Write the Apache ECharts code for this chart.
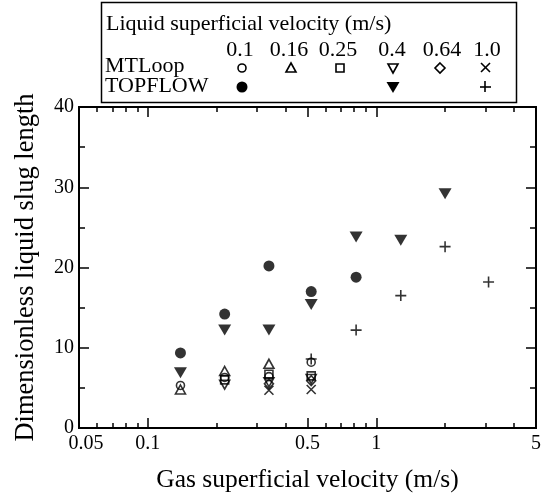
<!DOCTYPE html>
<html>
<head>
<meta charset="utf-8">
<script src="https://cdn.jsdelivr.net/npm/echarts@6/dist/echarts.min.js"></script>
<style>html,body{margin:0;padding:0;background:#fff}#c{width:544px;height:498px}</style>
</head>
<body>
<div id="c"></div>
<script>
// ---- data ----
const xTickLabels = ['0.05', '0.1', '0.5', '1', '5'];
const xMajorTicks = [0.05, 0.1, 0.5, 1, 5];
const xMinorTicks = [0.06, 0.07, 0.08, 0.09, 0.2, 0.3, 0.4, 0.6, 0.7, 0.8, 0.9, 2, 3, 4];
const yTicks = [0, 10, 20, 30, 40];
const liquidVelocities = ['0.1', '0.16', '0.25', '0.4', '0.64', '1.0'];

// MTLoop (gas superficial velocity, slug length)
const gasMT = [0.139, 0.217, 0.339, 0.519];
const mt_01  = [5.3, 6.3, 6.4, 8.2];
const mt_016 = [4.8, 7.1, 8.0, null];
const mt_025 = [null, 6.0, 6.7, 6.5];
const mt_04  = [null, 5.4, 5.7, 6.1];
const mt_064 = [null, null, 5.5, 5.9];
const mt_10  = [null, null, 4.7, 4.8];

// TOPFLOW
const gasTF01 = [0.139, 0.217, 0.339, 0.519, 0.816];
const tf_01   = [9.35, 14.2, 20.2, 17.0, 18.8];
const gasTF04 = [0.139, 0.217, 0.339, 0.519, 0.816, 1.28, 2.0];
const tf_04   = [6.9, 12.2, 12.2, 15.4, 23.8, 23.4, 29.2];
const gasTF10 = [0.519, 0.816, 1.28, 2.0, 3.1];
const tf_10   = [8.6, 12.2, 16.5, 22.6, 18.2];

// ---- build ----
const L = v => Math.log10(v);
const pts = (xs, ys) => xs.map((x, i) => ys[i] == null ? null : [L(x), ys[i]]).filter(p => p);
const FONT = 'Liberation Serif';
const xmin = L(0.05), xmax = L(5);

const crossPath = 'path://M0,0L10,10M10,0L0,10';
const plusPath = 'path://M5,0L5,10M0,5L10,5';

function openSeries(name, data, symbol, size, rotate) {
  return {
    type: 'scatter', name, data, symbol, symbolSize: size, symbolRotate: rotate || 0,
    itemStyle: { color: 'rgba(0,0,0,0)', borderColor: '#000', borderWidth: 1.6 },
    emphasis: { disabled: true }, z: 3
  };
}
function filledSeries(name, data, symbol, size, rotate) {
  return {
    type: 'scatter', name, data, symbol, symbolSize: size, symbolRotate: rotate || 0,
    itemStyle: { color: '#000', borderColor: '#000', borderWidth: 0 },
    emphasis: { disabled: true }, z: 4
  };
}

const labelFmt = v => {
  let best = 0, bd = 1e9;
  xMajorTicks.forEach((t, i) => { const d = Math.abs(L(t) - v); if (d < bd) { bd = d; best = i; } });
  return best === 0 ? '{first|' + xTickLabels[best] + '}' : xTickLabels[best];
};

const baseX = {
  type: 'value', min: xmin, max: xmax,
  axisLine: { show: true, onZero: false, lineStyle: { color: '#000', width: 2 } },
  splitLine: { show: false }
};
const baseY = {
  type: 'value', min: yTicks[0], max: yTicks[yTicks.length - 1], interval: 10,
  axisLine: { show: true, onZero: false, lineStyle: { color: '#000', width: 2 } },
  axisTick: { show: true, inside: true, length: 10, lineStyle: { color: '#000', width: 1.5 } },
  minorTick: { show: true, splitNumber: 2, length: 6, lineStyle: { color: '#000', width: 1.5 } },
  splitLine: { show: false }, minorSplitLine: { show: false }
};

const option = {
  animation: false,
  backgroundColor: '#fff',
  grid: { left: 79, right: 8, top: 107, bottom: 66, containLabel: false },
  xAxis: [
    Object.assign({}, baseX, {
      position: 'bottom',
      name: 'Gas superficial velocity (m/s)', nameLocation: 'middle', nameGap: 39,
      nameTextStyle: { fontFamily: FONT, fontSize: 25.5, color: '#000' },
      axisTick: { show: true, inside: true, length: 10, lineStyle: { color: '#000', width: 1.5 },
        customValues: xMajorTicks.map(L) },
      axisLabel: { show: true, fontFamily: FONT, fontSize: 20, color: '#000', margin: 6,
        customValues: xMajorTicks.map(L), formatter: labelFmt, showMinLabel: true, showMaxLabel: true,
        rich: { first: { fontFamily: FONT, fontSize: 20, color: '#000', padding: [0, 0, 0, 14] } } }
    }),
    Object.assign({}, baseX, {
      position: 'bottom',
      axisTick: { show: true, inside: true, length: 5, lineStyle: { color: '#000', width: 1.5 },
        customValues: xMinorTicks.map(L) },
      axisLabel: { show: false }
    }),
    Object.assign({}, baseX, {
      position: 'top',
      axisTick: { show: true, inside: true, length: 10, lineStyle: { color: '#000', width: 1.5 },
        customValues: xMajorTicks.map(L) },
      axisLabel: { show: false }
    }),
    Object.assign({}, baseX, {
      position: 'top',
      axisTick: { show: true, inside: true, length: 5, lineStyle: { color: '#000', width: 1.5 },
        customValues: xMinorTicks.map(L) },
      axisLabel: { show: false }
    })
  ],
  yAxis: [
    Object.assign({}, baseY, {
      position: 'left',
      name: 'Dimensionless liquid slug length', nameLocation: 'middle', nameGap: 39,
      nameTextStyle: { fontFamily: FONT, fontSize: 26.5, color: '#000' },
      axisLabel: { fontFamily: FONT, fontSize: 20, color: '#000', margin: 5 }
    }),
    Object.assign({}, baseY, {
      position: 'right',
      axisLabel: { show: false }
    })
  ],
  series: [
    openSeries('MTLoop 0.1', pts(gasMT, mt_01), 'circle', 8),
    openSeries('MTLoop 0.16', pts(gasMT, mt_016), 'triangle', [10, 9]),
    openSeries('MTLoop 0.25', pts(gasMT, mt_025), 'rect', 8),
    openSeries('MTLoop 0.4', pts(gasMT, mt_04), 'triangle', [10, 9], 180),
    openSeries('MTLoop 0.64', pts(gasMT, mt_064), 'diamond', [9, 10]),
    openSeries('MTLoop 1.0', pts(gasMT, mt_10), crossPath, 9),
    filledSeries('TOPFLOW 0.1', pts(gasTF01, tf_01), 'circle', 11),
    filledSeries('TOPFLOW 0.4', pts(gasTF04, tf_04), 'triangle', [13, 11], 180),
    openSeries('TOPFLOW 1.0', pts(gasTF10, tf_10), plusPath, 11)
  ],
  graphic: []
};

// legend box (custom table layout)
const g = [];
const txt = (text, x, y, align) => ({ type: 'text', x, y, style: { text, fontFamily: FONT, fontSize: 22, fill: '#000', align: align || 'left', verticalAlign: 'middle' }, z: 10 });
g.push({ type: 'rect', shape: { x: 101.5, y: 2.5, width: 415, height: 100 }, style: { fill: '#fff', stroke: '#000', lineWidth: 1.5 }, z: 9 });
g.push(txt('Liquid superficial velocity (m/s)', 106, 24));
const colX = [240, 289, 338, 392, 442, 487];
liquidVelocities.forEach((s, i) => g.push(txt(s, colX[i], 50, 'center')));
g.push(txt('MTLoop', 105, 66));
g.push(txt('TOPFLOW', 105, 86));
const sym = { fill: 'none', stroke: '#000', lineWidth: 1.6 };
const ry = 68, ty = 87;
g.push({ type: 'circle', shape: { cx: colX[0] + 2, cy: ry, r: 4 }, style: sym, z: 10 });
g.push({ type: 'polygon', shape: { points: [[colX[1] + 2, ry - 5], [colX[1] + 7, ry + 4], [colX[1] - 3, ry + 4]] }, style: sym, z: 10 });
g.push({ type: 'rect', shape: { x: colX[2] - 2, y: ry - 4, width: 8, height: 8 }, style: sym, z: 10 });
g.push({ type: 'polygon', shape: { points: [[colX[3] - 4, ry - 4], [colX[3] + 6, ry - 4], [colX[3] + 1, ry + 5]] }, style: sym, z: 10 });
g.push({ type: 'polygon', shape: { points: [[colX[4] - 2, ry - 5], [colX[4] + 3, ry], [colX[4] - 2, ry + 5], [colX[4] - 7, ry]] }, style: sym, z: 10 });
g.push({ type: 'polyline', shape: { points: [[colX[5] - 6, ry - 5], [colX[5] + 3, ry + 4]] }, style: sym, z: 10 });
g.push({ type: 'polyline', shape: { points: [[colX[5] + 3, ry - 5], [colX[5] - 6, ry + 4]] }, style: sym, z: 10 });
g.push({ type: 'circle', shape: { cx: colX[0] + 2, cy: ty, r: 5.5 }, style: { fill: '#000' }, z: 10 });
g.push({ type: 'polygon', shape: { points: [[colX[3] - 5.5, ty - 5], [colX[3] + 7.5, ty - 5], [colX[3] + 1, ty + 6]] }, style: { fill: '#000' }, z: 10 });
g.push({ type: 'polyline', shape: { points: [[colX[5] - 2, ty - 6], [colX[5] - 2, ty + 5]] }, style: sym, z: 10 });
g.push({ type: 'polyline', shape: { points: [[colX[5] - 7, ty], [colX[5] + 4, ty]] }, style: sym, z: 10 });
option.graphic = g;

const chart = echarts.init(document.getElementById('c'), null, { renderer: 'canvas' });
chart.setOption(option);
</script>
</body>
</html>
